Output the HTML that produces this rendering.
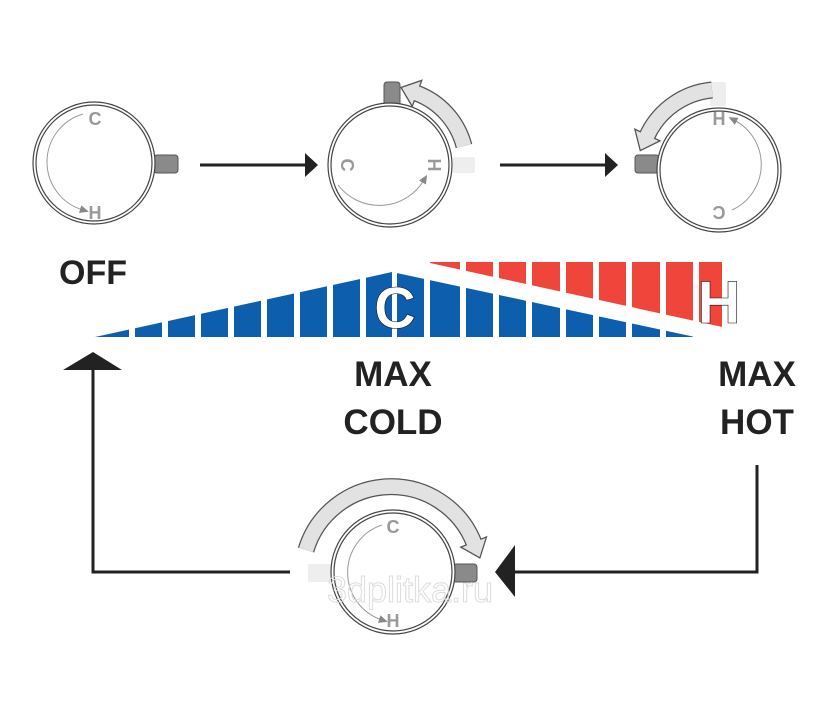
<!DOCTYPE html>
<html><head><meta charset="utf-8"><style>
html,body{margin:0;padding:0;background:#fff;}
svg{display:block;font-family:"Liberation Sans",sans-serif;}
</style></head><body>
<svg width="820" height="705" viewBox="0 0 820 705" xmlns="http://www.w3.org/2000/svg">
<defs>
<marker id="big" markerUnits="userSpaceOnUse" markerWidth="32" markerHeight="32" refX="2" refY="14" orient="auto" viewBox="0 0 30 28">
<polygon points="1,1 17,14 1,27" fill="#e2e2e2" stroke="#555" stroke-width="1.2"/>
</marker>
<marker id="sm" markerUnits="userSpaceOnUse" markerWidth="10" markerHeight="10" refX="3" refY="5" orient="auto" viewBox="0 0 10 10">
<polygon points="0,1 9,5 0,9" fill="#888"/>
</marker>
</defs>

<!-- Knob 1 -->
<rect x="154" y="155" width="24" height="18" rx="3" fill="#8a8a8a" stroke="#555" stroke-width="1"/>
<circle cx="94" cy="163" r="61" fill="#fff" stroke="#444" stroke-width="1.2"/>
<circle cx="94" cy="163" r="58" fill="none" stroke="#444" stroke-width="1.2"/>
<path d="M83,114 A50,50 0 0,0 83,210" fill="none" stroke="#999" stroke-width="1" marker-end="url(#sm)"/>
<text x="95" y="125" font-size="18" font-weight="bold" fill="#999" text-anchor="middle">C</text>
<text x="95" y="219" font-size="18" font-weight="bold" fill="#999" text-anchor="middle">H</text>

<!-- Arrow 1 -->
<line x1="200" y1="165" x2="306" y2="165" stroke="#222" stroke-width="3"/>
<polygon points="305,153 318,165 305,177" fill="#222"/>

<!-- Knob 2 -->
<rect x="384" y="82" width="16" height="24" rx="3" fill="#8a8a8a" stroke="#555" stroke-width="1"/>
<rect x="453" y="157" width="22" height="16" rx="2" fill="#eee"/>
<circle cx="390" cy="165" r="62" fill="#fff" stroke="#444" stroke-width="1.2"/>
<circle cx="390" cy="165" r="59" fill="none" stroke="#444" stroke-width="1.2"/>
<path d="M464,146 A77,77 0 0,0 416,93" fill="none" stroke="#555" stroke-width="17" marker-end="url(#big)"/>
<path d="M464,146 A77,77 0 0,0 416,93" fill="none" stroke="#e2e2e2" stroke-width="14.5"/>
<path d="M338,185 A52,52 0 0,0 424,180" fill="none" stroke="#999" stroke-width="1" marker-end="url(#sm)"/>
<text transform="translate(341,165) rotate(90)" font-size="18" font-weight="bold" fill="#999" text-anchor="middle">C</text>
<text transform="translate(441,165) rotate(-90)" font-size="18" font-weight="bold" fill="#999" text-anchor="middle">H</text>

<!-- Arrow 2 -->
<line x1="500" y1="165" x2="606" y2="165" stroke="#222" stroke-width="3"/>
<polygon points="605,153 618,165 605,177" fill="#222"/>

<!-- Knob 3 -->
<rect x="710" y="82" width="16" height="24" rx="2" fill="#eee"/>
<rect x="635" y="155" width="24" height="18" rx="3" fill="#8a8a8a" stroke="#555" stroke-width="1"/>
<circle cx="719" cy="170" r="62" fill="#fff" stroke="#444" stroke-width="1.2"/>
<circle cx="719" cy="170" r="59" fill="none" stroke="#444" stroke-width="1.2"/>
<path d="M712,90 A80,80 0 0,0 647,136" fill="none" stroke="#555" stroke-width="17" marker-end="url(#big)"/>
<path d="M712,90 A80,80 0 0,0 647,136" fill="none" stroke="#e2e2e2" stroke-width="14.5"/>
<path d="M732,210 A50,50 0 0,0 734,120" fill="none" stroke="#999" stroke-width="1" marker-end="url(#sm)"/>
<text x="719" y="125" font-size="18" font-weight="bold" fill="#999" text-anchor="middle">H</text>
<text transform="translate(719,206) rotate(180)" font-size="18" font-weight="bold" fill="#999" text-anchor="middle">C</text>

<!-- OFF -->
<text x="59" y="284" font-size="34" font-weight="bold" fill="#222">OFF</text>

<!-- Bars -->
<polygon points="95,337 392,272 695,337" fill="#0d5fad"/>
<polygon points="425,262 722,262 722,327" fill="#f0453a"/>
<g fill="#fff">
<rect x="129" y="250" width="6" height="95"/>
<rect x="162" y="250" width="6" height="95"/>
<rect x="195" y="250" width="6" height="95"/>
<rect x="228" y="250" width="6" height="95"/>
<rect x="261" y="250" width="6" height="95"/>
<rect x="294" y="250" width="6" height="95"/>
<rect x="327" y="250" width="6" height="95"/>
<rect x="360" y="250" width="6" height="95"/>
<rect x="392" y="250" width="5" height="95"/>
<rect x="424" y="250" width="6" height="95"/>
<rect x="460" y="250" width="6" height="95"/>
<rect x="493" y="250" width="6" height="95"/>
<rect x="526" y="250" width="6" height="95"/>
<rect x="560" y="250" width="6" height="95"/>
<rect x="593" y="250" width="6" height="95"/>
<rect x="626" y="250" width="6" height="95"/>
<rect x="660" y="250" width="6" height="95"/>
<rect x="693" y="250" width="6" height="95"/>
<polygon points="410,262 425,262 722,327 722,333 700,333"/>
</g>
<text x="395" y="328" font-size="58" font-weight="bold" fill="#fff" stroke="#111" stroke-width="0.6" text-anchor="middle">C</text>
<text x="719" y="323" font-size="60" font-weight="bold" fill="#fff" stroke="#111" stroke-width="0.6" text-anchor="middle">H</text>

<text x="393" y="386" font-size="35" font-weight="bold" fill="#222" text-anchor="middle">MAX</text>
<text x="393" y="434" font-size="35" font-weight="bold" fill="#222" text-anchor="middle">COLD</text>
<text x="757" y="386" font-size="35" font-weight="bold" fill="#222" text-anchor="middle">MAX</text>
<text x="757" y="434" font-size="35" font-weight="bold" fill="#222" text-anchor="middle">HOT</text>

<!-- Feedback lines -->
<polyline points="757,465 757,572 512,572" fill="none" stroke="#222" stroke-width="3"/>
<polygon points="515,545 495,572 515,597" fill="#222"/>
<polyline points="290,572 93,572 93,368" fill="none" stroke="#222" stroke-width="3"/>
<polygon points="63,370 93,352 122,370" fill="#222"/>

<!-- Knob 4 -->
<rect x="308" y="564" width="24" height="18" rx="2" fill="#eee"/>
<rect x="453" y="564" width="24" height="18" rx="3" fill="#8a8a8a" stroke="#555" stroke-width="1"/>
<circle cx="393" cy="572" r="62" fill="#fff" stroke="#444" stroke-width="1.2"/>
<circle cx="393" cy="572" r="59" fill="none" stroke="#444" stroke-width="1.2"/>
<path d="M306,550 A89,89 0 0,1 474,543" fill="none" stroke="#555" stroke-width="17" marker-end="url(#big)"/>
<path d="M306,550 A89,89 0 0,1 474,543" fill="none" stroke="#e2e2e2" stroke-width="14.5"/>
<path d="M382,525 A50,50 0 0,0 382,620" fill="none" stroke="#999" stroke-width="1" marker-end="url(#sm)"/>
<text x="393" y="533" font-size="18" font-weight="bold" fill="#999" text-anchor="middle">C</text>
<text x="393" y="627" font-size="18" font-weight="bold" fill="#999" text-anchor="middle">H</text>
<text x="410" y="602" font-size="36" fill="none" stroke="#ddd" stroke-width="1" text-anchor="middle">3dplitka.ru</text>
</svg>
</body></html>
